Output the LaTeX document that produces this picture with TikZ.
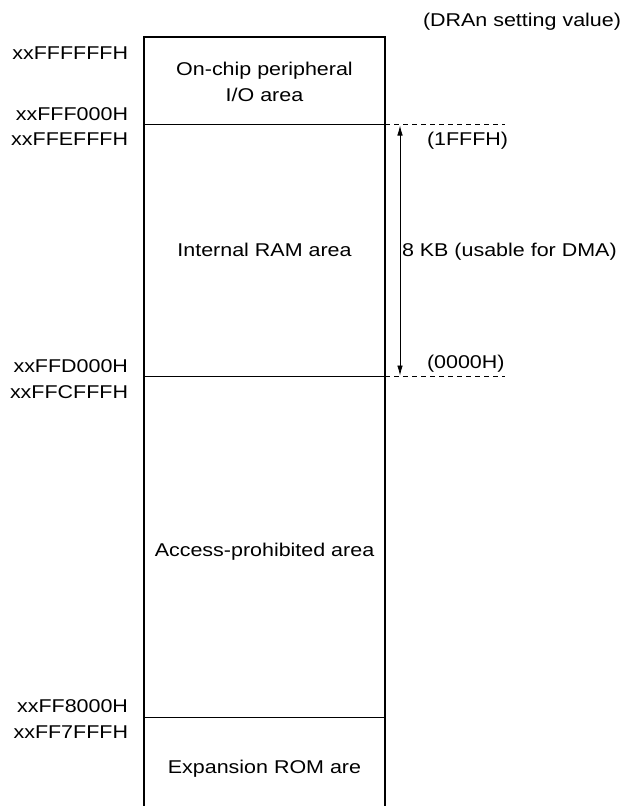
\documentclass[tikz,border=0pt]{standalone}
\usepackage{fontspec}
\setmainfont{Liberation Sans}
\usetikzlibrary{arrows.meta}
\newcommand\hs[1]{\scalebox{1.16}[1]{#1}}
\tikzset{
  lbl/.style={inner sep=0pt, outer sep=0pt, font=\fontsize{18.5}{26}\selectfont},
  addr/.style={lbl, anchor=base east},
  side/.style={lbl, anchor=base west},
  area/.style={lbl, anchor=base},
  border/.style={line width=2pt, line cap=rect},
  divider/.style={line width=1pt},
  ext/.style={line width=0.9pt, dash pattern=on 5pt off 4pt},
  dim/.style={line width=0.8pt, {Latex[length=10pt,width=5.5pt]}-{Latex[length=10pt,width=5.5pt]}}
}
\begin{document}
\begin{tikzpicture}[x=1pt,y=-1pt]
\useasboundingbox (0,0) rectangle (629,806);
% memory box
\coordinate (bl) at (144,806);
\coordinate (tl) at (144,37.3);
\coordinate (tr) at (385,37.3);
\coordinate (br) at (385,806);
\draw[border] (bl) -- (tl) -- (tr) -- (br);
% dividers
\coordinate (d1l) at (144,124);   \coordinate (d1r) at (385,124);
\coordinate (d2l) at (144,376.5); \coordinate (d2r) at (385,376.5);
\coordinate (d3l) at (144,717);   \coordinate (d3r) at (385,717);
\coordinate (e1) at (505,124);
\coordinate (e2) at (505,376.5);
\draw[divider] (d1l) -- (d1r);
\draw[divider] (d2l) -- (d2r);
\draw[divider] (d3l) -- (d3r);
\draw[ext] (d1r) -- (e1);
\draw[ext] (d2r) -- (e2);
% dimension arrow
\coordinate (at) at (400,125.5);
\coordinate (ab) at (400,375.5);
\draw[dim] (at) -- (ab);
% addresses
\node[addr] (a1) at (128,59.3)  {\hs{xxFFFFFFH}};
\node[addr] (a2) at (128,120.5) {\hs{xxFFF000H}};
\node[addr] (a3) at (128,145)   {\hs{xxFFEFFFH}};
\node[addr] (a4) at (128,372.3) {\hs{xxFFD000H}};
\node[addr] (a5) at (128,398)   {\hs{xxFFCFFFH}};
\node[addr] (a6) at (128,712.7) {\hs{xxFF8000H}};
\node[addr] (a7) at (128,738.5) {\hs{xxFF7FFFH}};
% area names
\node[area] (io1) at (264.5,75.7)  {\hs{On-chip peripheral}};
\node[area] (io2) at (264.5,101.7) {\hs{I/O area}};
\node[area] (ram) at (264.5,256.7) {\hs{Internal RAM area}};
\node[area] (ap)  at (264.5,556.7) {\hs{Access-prohibited area}};
\node[area] (rom) at (264.5,773)   {\hs{Expansion ROM are}};
% right side
\node[lbl, anchor=base east] (dra) at (621,26) {\hs{(DRAn setting value)}};
\node[side] (v1) at (427,145)   {\hs{(1FFFH)}};
\node[side] (sz) at (402,256.7) {\hs{8 KB (usable for DMA)}};
\node[side] (v0) at (427,368.5) {\hs{(0000H)}};
\end{tikzpicture}
\end{document}
